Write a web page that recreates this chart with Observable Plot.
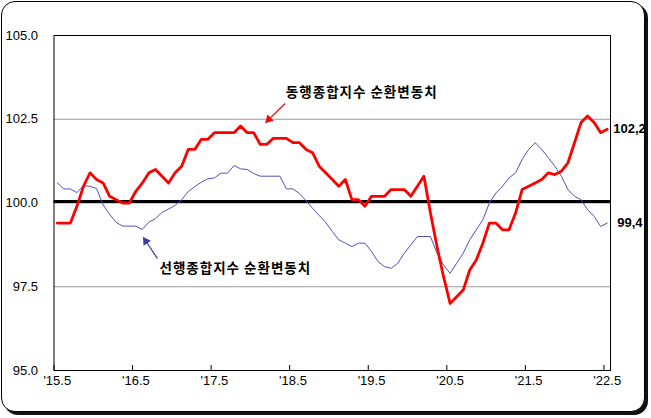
<!DOCTYPE html>
<html>
<head>
<meta charset="utf-8">
<script src="https://cdn.jsdelivr.net/npm/d3@7"></script>
<script src="https://cdn.jsdelivr.net/npm/@observablehq/plot@0.6"></script>
<style>
  html, body { margin: 0; padding: 0; background: #fff; }
  #wrap { position: relative; width: 651px; height: 418px; overflow: hidden; }
  #box { position: absolute; left: 1px; top: 1px; width: 642px; height: 409px;
         border: 1.5px solid #000; border-radius: 14px; box-shadow: 3px 3px 0 #111; background: #fff; }
  #chart { position: absolute; left: 0; top: 0; }
</style>
</head>
<body>
<div id="wrap"><div id="box"></div><div id="chart"></div></div>
<script>
// Monthly index: 0 = 2015.5 (May 2015) ... 84 = 2022.5 (May 2022)
const coincident = [
  99.4, 99.4, 99.4, 99.9, 100.5, 100.9, 100.7, 100.6, 100.2, 100.1,
  100.0, 100.0, 100.35, 100.6, 100.9, 101.0, 100.8, 100.6, 100.9, 101.1,
  101.6, 101.6, 101.9, 101.9, 102.1, 102.1, 102.1, 102.1, 102.3, 102.1,
  102.1, 101.75, 101.75, 101.93, 101.93, 101.93, 101.8, 101.8, 101.6, 101.5,
  101.1, 100.9, 100.7, 100.5, 100.7, 100.1, 100.1, 99.9, 100.2, 100.2,
  100.2, 100.4, 100.4, 100.4, 100.2, 100.5, 100.8, 99.7, 98.7, 97.8,
  97.0, 97.2, 97.4, 98.0, 98.3, 98.8, 99.4, 99.4, 99.2, 99.2,
  99.7, 100.4, 100.5, 100.6, 100.7, 100.9, 100.85, 100.95, 101.2, 101.8,
  102.4, 102.6, 102.4, 102.1, 102.2
];
const leading = [
  100.6, 100.42, 100.42, 100.31, 100.52, 100.5, 100.43, 99.95, 99.66, 99.42,
  99.31, 99.31, 99.31, 99.21, 99.43, 99.53, 99.72, 99.82, 99.93, 100.1,
  100.34, 100.49, 100.62, 100.72, 100.75, 100.89, 100.89, 101.12, 101.02, 101.0,
  100.88, 100.8, 100.8, 100.8, 100.8, 100.42, 100.42, 100.28, 100.07, 99.84,
  99.63, 99.42, 99.15, 98.9, 98.8, 98.7, 98.8, 98.8, 98.55, 98.25,
  98.1, 98.05, 98.2, 98.5, 98.75, 99.0, 99.0, 99.0, 98.5, 98.15,
  97.9, 98.2, 98.5, 98.9, 99.2, 99.5, 100.0, 100.3, 100.5, 100.75,
  100.9, 101.3, 101.6, 101.8, 101.6, 101.35, 101.1, 100.8, 100.4, 100.2,
  100.1, 99.8, 99.6, 99.3, 99.4
];
const xTickLabels = ["'15.5", "'16.5", "'17.5", "'18.5", "'19.5", "'20.5", "'21.5", "'22.5"];
const xTickMonths = [0, 12, 24, 36, 48, 60, 72, 84];
const yTicks = [95, 97.5, 100, 102.5, 105];
const gridLines = [97.5, 100, 102.5];
const seriesNames = ["동행종합지수 순환변동치", "선행종합지수 순환변동치"];
const endLabels = ["102,2", "99,4"];
// annotation anchor points (month index, value)
const nameLabelPos = [{x: 47.0, y: 103.3}, {x: 27.7, y: 98.05}];
const arrowPos = [
  {x1: 35.3, y1: 102.97, x2: 32.3, y2: 102.4, rot: 226},
  {x1: 15.8, y1: 98.34, x2: 13.66, y2: 98.97, rot: 326}
];
const arrowColors = ["#ff0000", "#3c3ca8"];

const red = coincident.map((v, i) => ({i: i + 0.5, v}));
const blue = leading.map((v, i) => ({i: i + 0.5, v}));
const n = coincident.length;
// arrowhead centre: a little back from the tip along the shaft
const heads = arrowPos.map((a, k) => ({
  x: a.x2 + (a.x1 - a.x2) * 0.17, y: a.y2 + (a.y1 - a.y2) * 0.17, rot: a.rot, c: arrowColors[k]
}));

const font = "'Liberation Sans', 'DejaVu Sans', sans-serif";
const chart = Plot.plot({
  width: 651,
  height: 418,
  marginLeft: 53.5,
  marginRight: 41,
  marginTop: 35,
  marginBottom: 48,
  style: {fontFamily: font, fontSize: "12px", background: "transparent", overflow: "visible"},
  x: {domain: [0, n], axis: null},
  y: {domain: [95, 105], axis: null},
  marks: [
    Plot.ruleY(gridLines, {stroke: "#9a9a9a", strokeWidth: 1}),
    Plot.ruleY([100], {stroke: "#000", strokeWidth: 3, dy: -1.5}),
    Plot.line(blue, {x: "i", y: "v", stroke: "#5050c4", strokeWidth: 1}),
    Plot.line(red, {x: "i", y: "v", stroke: "#ff0000", strokeWidth: 2.8, strokeLinejoin: "round"}),
    Plot.frame({stroke: "#000", strokeWidth: 1}),
    Plot.axisY({ticks: yTicks, tickSize: 0, tickPadding: 16, tickFormat: d => d.toFixed(1), label: null, fontSize: 13}),
    Plot.axisX({ticks: xTickMonths, tickSize: 5, dy: -5, tickFormat: () => "", label: null}),
    Plot.text(xTickMonths.map((m, k) => ({x: m + 0.5, t: xTickLabels[k]})), {
      x: "x", text: "t", frameAnchor: "bottom", dy: 14, fontSize: 13
    }),
    Plot.text([{x: n - 0.5, y: coincident[n - 1], t: endLabels[0]}], {
      x: "x", y: "y", text: "t", textAnchor: "start", dx: 6, fontWeight: "bold", fontSize: 13
    }),
    Plot.text([{x: n - 0.5, y: leading[n - 1], t: endLabels[1]}], {
      x: "x", y: "y", text: "t", textAnchor: "start", dx: 10, fontWeight: "bold", fontSize: 13
    }),
    Plot.text(nameLabelPos.map((p, k) => ({...p, t: seriesNames[k]})), {
      x: "x", y: "y", text: "t", fontWeight: "bold", fontSize: 13.5,
      fontFamily: "'Noto Sans CJK KR', sans-serif"
    }),
    Plot.link(arrowPos, {x1: "x1", y1: "y1", x2: "x2", y2: "y2", stroke: (d, k) => arrowColors[k], strokeWidth: 1.2}),
    Plot.dot(heads, {x: "x", y: "y", symbol: "triangle2", r: 4.2, rotate: "rot", fill: "c", stroke: "none"})
  ]
});
d3.select(chart).selectAll("text").filter(function(){ return this.textContent.indexOf("종합") >= 0; }).style("letter-spacing", "1px");
document.getElementById("chart").appendChild(chart);
</script>
</body>
</html>
